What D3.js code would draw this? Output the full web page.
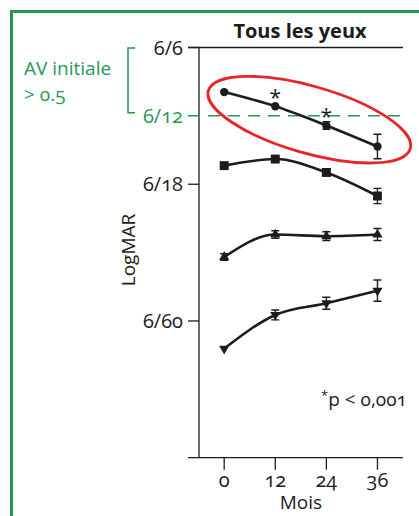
<!DOCTYPE html>
<html>
<head>
<meta charset="utf-8">
<script src="https://cdn.jsdelivr.net/npm/d3@7"></script>
<style>
  body { margin: 0; background: #fff; }
  svg text { font-family: "Open Sans", "Noto Sans", sans-serif; font-variant-numeric: oldstyle-nums; font-feature-settings: "onum" 1; }
</style>
</head>
<body>
<div id="chart"></div>
<script>
var W = 419, H = 516;

// months
var months = [0, 12, 24, 36];
// y ticks (arbitrary visual units, 6/6 at top)
var yTicks = [0, 0.25, 0.5, 1.0];
var yTickLabels = ["6/6", "6/12", "6/18", "6/60"];

// series values (same unit as y ticks) and error half-widths
var sCircle = [0.163, 0.215, 0.285, 0.362];
var eCircle = [0, 0, 0.014, 0.045];
var sSquare = [0.432, 0.408, 0.457, 0.543];
var eSquare = [0, 0, 0.006, 0.028];
var sUp = [0.766, 0.684, 0.690, 0.684];
var eUp = [0.012, 0.014, 0.016, 0.022];
var sDown = [1.101, 0.978, 0.935, 0.889];
var eDown = [0, 0.018, 0.022, 0.039];
var starAt = [12, 24];

var green = "#1e9a55", ink = "#1c1c1c";

var svg = d3.select("#chart").append("svg")
	.attr("width", W)
	.attr("height", H);

// green frame
svg.append("path")
	.attr("d", "M11.5," + H + "V11.5H" + W)
	.attr("fill", "none")
	.attr("stroke", green)
	.attr("stroke-width", 3);

var x = d3.scaleLinear().domain([-8.5, 42]).range([188, 403]);
var y = d3.scaleLinear().domain([0, 1.5]).range([47.5, 457.7]);
var axisX = 199;

// y axis line
svg.append("line")
	.attr("x1", axisX).attr("x2", axisX)
	.attr("y1", y(0)).attr("y2", y(1.5))
	.attr("stroke", ink).attr("stroke-width", 1.3);

// top line and bottom axis line
svg.append("line")
	.attr("x1", 188).attr("x2", 403)
	.attr("y1", y(0)).attr("y2", y(0))
	.attr("stroke", ink).attr("stroke-width", 1.3);
svg.append("line")
	.attr("x1", 188).attr("x2", 403)
	.attr("y1", y(1.5)).attr("y2", y(1.5))
	.attr("stroke", ink).attr("stroke-width", 1.3);

// green dashed 6/12 line
svg.append("line")
	.attr("x1", 188).attr("x2", 403)
	.attr("y1", y(0.25)).attr("y2", y(0.25))
	.attr("stroke", green).attr("stroke-width", 1.5)
	.attr("stroke-dasharray", "12,8");

// y ticks
yTicks.forEach(function(t, i) {
	var col = i == 1 ? green : ink;
	if (i != 1) svg.append("line")
		.attr("x1", 188).attr("x2", axisX)
		.attr("y1", y(t)).attr("y2", y(t))
		.attr("stroke", ink).attr("stroke-width", 1.3);
	svg.append("text")
		.attr("x", 183)
		.attr("y", y(t) + 7)
		.attr("text-anchor", "end")
		.attr("font-size", "20px")
		.attr("fill", col)
		.text(yTickLabels[i]);
});

// x ticks
months.forEach(function(m) {
	svg.append("line")
		.attr("x1", x(m)).attr("x2", x(m))
		.attr("y1", y(1.5)).attr("y2", y(1.5) + 12)
		.attr("stroke", ink).attr("stroke-width", 1.3);
	svg.append("text")
		.attr("x", x(m))
		.attr("y", 487)
		.attr("text-anchor", "middle")
		.attr("font-size", "20px")
		.attr("fill", ink)
		.text(m);
});

svg.append("text")
	.attr("x", x(18)).attr("y", 509)
	.attr("text-anchor", "middle")
	.attr("font-size", "19px")
	.attr("fill", ink)
	.text("Mois");

svg.append("text")
	.attr("transform", "translate(135,250) rotate(-90)")
	.attr("text-anchor", "middle")
	.attr("font-size", "19px")
	.attr("fill", ink)
	.text("LogMAR");

svg.append("text")
	.attr("x", 300).attr("y", 38)
	.attr("text-anchor", "middle")
	.attr("font-size", "20px")
	.style("font-weight", "bold")
	.attr("fill", ink)
	.text("Tous les yeux");

// AV initiale label + bracket
svg.append("text")
	.attr("x", 24).attr("y", 75)
	.attr("font-size", "19px")
	.attr("fill", green)
	.text("AV initiale");
svg.append("text")
	.attr("x", 24).attr("y", 101)
	.attr("font-size", "19px")
	.attr("fill", green)
	.text("> 0.5");
svg.append("path")
	.attr("d", "M135," + (y(0) + 0.5) + "H128V" + (y(0.25) - 3) + "H135")
	.attr("fill", "none")
	.attr("stroke", green).attr("stroke-width", 1.5);

// p note
var pn = svg.append("text")
	.attr("x", 321).attr("y", 406)
	.attr("font-size", "19px")
	.attr("fill", ink);
pn.append("tspan").attr("font-size", "13px").attr("dy", "-6").text("*");
pn.append("tspan").attr("dy", "6").text("p < 0,001");

// series
var line = d3.line()
	.x(function(d, i) { return x(months[i]); })
	.y(function(d) { return y(d); })
	.curve(d3.curveMonotoneX);

var series = [
	{v: sCircle, e: eCircle, sym: d3.symbolCircle, size: 55},
	{v: sSquare, e: eSquare, sym: d3.symbolSquare, size: 80},
	{v: sUp, e: eUp, sym: d3.symbolTriangle, size: 45, rot: 0},
	{v: sDown, e: eDown, sym: d3.symbolTriangle, size: 45, rot: 180}
];

series.forEach(function(s) {
	svg.append("path")
		.attr("d", line(s.v))
		.attr("fill", "none")
		.attr("stroke", ink)
		.attr("stroke-width", 2.6);
	s.v.forEach(function(v, i) {
		var cx = x(months[i]);
		if (s.e[i] > 0) {
			var y0 = y(v - s.e[i]), y1 = y(v + s.e[i]);
			svg.append("path")
				.attr("d", "M" + cx + "," + y0 + "V" + y1 +
					"M" + (cx - 4) + "," + y0 + "H" + (cx + 4) +
					"M" + (cx - 4) + "," + y1 + "H" + (cx + 4))
				.attr("stroke", ink).attr("stroke-width", 1.4).attr("fill", "none");
		}
		svg.append("path")
			.attr("d", d3.symbol().type(s.sym).size(s.size)())
			.attr("transform", "translate(" + cx + "," + y(v) + ") rotate(" + (s.rot || 0) + ")")
			.attr("fill", ink);
	});
});

// asterisks
starAt.forEach(function(m) {
	var i = months.indexOf(m);
	svg.append("text")
		.attr("x", x(m)).attr("y", y(sCircle[i]) - 1)
		.attr("text-anchor", "middle")
		.attr("font-size", "21px")
		.attr("fill", ink)
		.text("*");
});

// red ellipse annotation
svg.append("ellipse")
	.attr("cx", 0).attr("cy", 0)
	.attr("rx", 105).attr("ry", 33.5)
	.attr("transform", "translate(" + x(20) + "," + y(0.264) + ") rotate(16)")
	.attr("fill", "none")
	.attr("stroke", "#e52528")
	.attr("stroke-width", 2.8);
</script>
</body>
</html>
